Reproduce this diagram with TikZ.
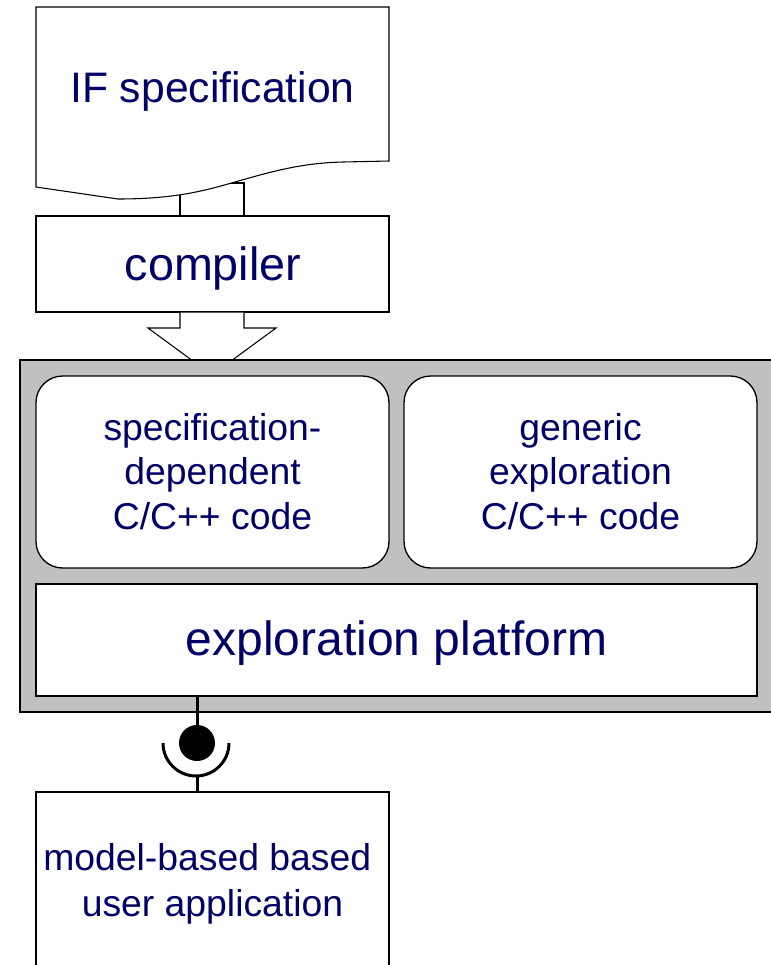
\documentclass[tikz,border=0pt]{standalone}
\usepackage{fontspec}
\setmainfont{Liberation Sans}
\definecolor{navy}{RGB}{0,0,102}
\definecolor{panelgray}{RGB}{192,192,192}

\begin{document}
\begin{tikzpicture}[x=0.75pt,y=-0.75pt,
  outline/.style={draw=black,line width=0.8pt,fill=white},
  boxnode/.style={outline,rectangle,inner sep=0pt,minimum width=264.75pt},
  roundbox/.style={boxnode,line width=1pt,rounded corners=20pt,minimum height=144pt},
  caption/.style={text=navy,inner sep=0pt,align=center},
  socket/.style={draw=black,line width=2.25pt}]
\useasboundingbox (0,0) rectangle (771,965);
\clip (0,0) rectangle (771,965);

% shaft joining the specification to the compiler (partly hidden by the sheet)
\draw[outline] (180,183) rectangle (244,216);

% specification sheet with a wavy lower edge
\draw[outline] (36,7) -- (389,7) -- (389,161) -- (343,162)
  .. controls (300,163) and (270,172) .. (228,184)
  .. controls (200,192) and (170,199) .. (118,199) -- (36,187) -- cycle;
\node[caption,font=\fontsize{32}{38}\selectfont,anchor=base] (spec) at (212.5,102) {IF specification};

% compiler
\node[boxnode,minimum height=72pt] (compiler) at (212.5,264) {};
\node[caption,font=\fontsize{35}{42}\selectfont,anchor=base] (compilertext) at (213,280) {compiler};

% block arrow from the compiler into the exploration engine
\draw[outline] (compiler.south -| 180,0) -- (180,328) -- (148,328) -- (212,375)
  -- (276,328) -- (244,328) -- (compiler.south -| 244,0);

% exploration engine panel
\node[draw=black,line width=1.1pt,fill=panelgray,rectangle,inner sep=0pt,
  minimum width=585pt,minimum height=264pt] (engine) at (410,536) {};

\node[roundbox] (specific) at (212.5,472) {};
\node[caption,font=\fontsize{28}{33.4}\selectfont] (specifictext) at (212.5,471.5)
  {specification-\\dependent\\C/C++ code};

\node[roundbox] (generic) at (580.5,472) {};
\node[caption,font=\fontsize{28}{33.4}\selectfont] (generictext) at (580.5,471.5)
  {generic\\exploration\\C/C++ code};

\node[boxnode,minimum width=540.75pt,minimum height=84pt] (platform) at (396.5,640) {};
\node[caption,font=\fontsize{36}{43}\selectfont,anchor=base] (platformtext) at (396.5,655)
  {exploration platform};

% provided / required interface between the platform and the application
\coordinate (ball) at (197,743);
\node[boxnode,minimum height=156pt] (app) at (212.5,896) {};
\node[caption,font=\fontsize{28}{34.5}\selectfont] (apptext) at (212.5,883.5)
  {model-based based\kern0.28em\\user application};

\draw[socket] (platform.south -| ball) -- (ball);
\fill (ball) circle (18);
\draw[socket] (229,743) arc[start angle=0,end angle=180,radius=33];
\draw[socket] (ball |- 0,776) -- (app.north -| ball);
\end{tikzpicture}
\end{document}
